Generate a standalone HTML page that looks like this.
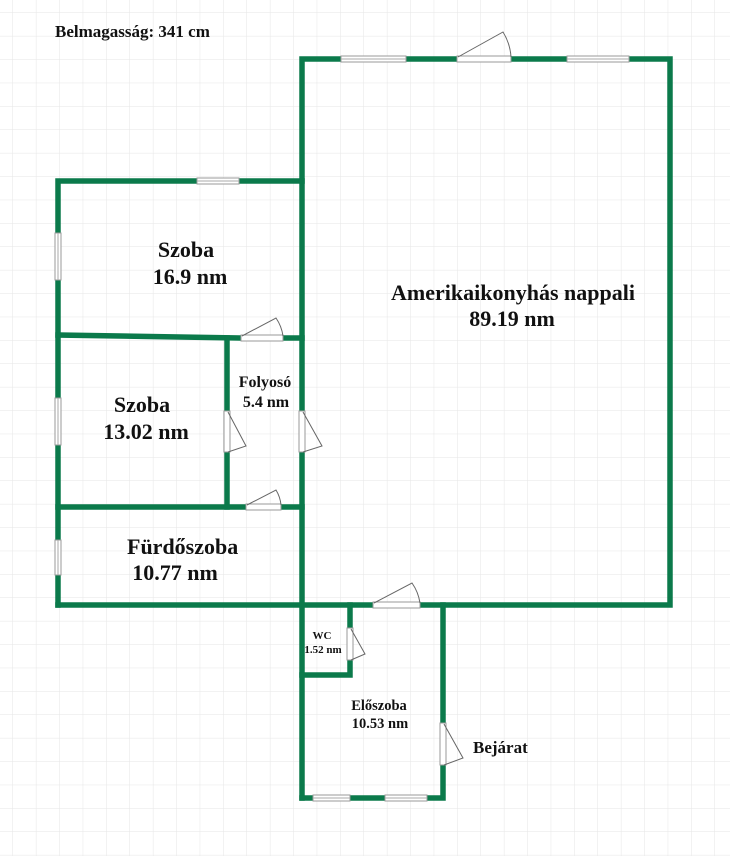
<!DOCTYPE html>
<html><head><meta charset="utf-8"><style>
html,body{margin:0;padding:0;background:#fff;}
svg{display:block;}
text{font-family:"Liberation Serif",serif;font-weight:bold;fill:#111;}
</style></head><body>
<svg width="730" height="856" viewBox="0 0 730 856" xmlns="http://www.w3.org/2000/svg">
<defs>
<pattern id="g" width="23.4" height="23.4" patternUnits="userSpaceOnUse" x="13" y="13">
<path d="M23.4 0V23.4M0 23.4H23.4" stroke="#e6e6e6" stroke-width="1" fill="none"/>
</pattern>
</defs>
<rect width="730" height="856" fill="url(#g)"/>
<g stroke="#0b7a4b" stroke-width="5.5" fill="none" stroke-linecap="square">
<path d="M302 798V59H670V605H58"/>
<path d="M302 181H58V605"/>
<path d="M58 335L240 338M283 338H302"/>
<path d="M227 338V411M227 452V507"/>
<path d="M58 507H246M281 507H302"/>
<path d="M350 605V628M350 660V675H302"/>
<path d="M443 605V723M443 765V798H302"/>
</g>
<g fill="#fff" stroke="#999" stroke-width="1">
<rect x="341" y="56" width="65" height="6"/>
<rect x="567" y="56" width="62" height="6"/>
<rect x="457" y="56" width="54" height="6"/>
<rect x="197" y="178" width="42" height="6"/>
<rect x="55" y="233" width="6" height="47"/>
<rect x="55" y="398" width="6" height="47"/>
<rect x="55" y="540" width="6" height="35"/>
<rect x="241" y="335" width="42" height="6"/>
<rect x="224" y="411" width="6" height="41"/>
<rect x="299" y="411" width="6" height="41"/>
<rect x="246" y="504" width="35" height="6"/>
<rect x="373" y="602" width="47" height="6"/>
<rect x="347" y="628" width="6" height="32"/>
<rect x="440" y="723" width="6" height="42"/>
<rect x="313" y="795" width="37" height="6"/>
<rect x="385" y="795" width="42" height="6"/>
</g>
<g stroke="#aaa" stroke-width="1">
<path d="M341 59H406M567 59H629M197 181H239M58 233V280M58 398V445M58 540V575M313 798H350M385 798H427"/>
</g>
<g stroke="#666" stroke-width="1" fill="none">
<path d="M458 57L503 32A54 54 0 0 1 511 57"/>
<path d="M242 336L276 318A42 42 0 0 1 283 336"/>
<path d="M228 412L246 446L228 452"/>
<path d="M303 412L322 446L303 452"/>
<path d="M247 505L276 490A35 35 0 0 1 281 505"/>
<path d="M374 603L412 583A47 47 0 0 1 420 603"/>
<path d="M351 629L365 654L351 660"/>
<path d="M444 724L463 758L444 765"/>
</g>
<text x="55" y="37" font-size="17">Belmagasság: 341 cm</text>
<text x="186" y="257" font-size="22" text-anchor="middle">Szoba</text>
<text x="190" y="284" font-size="22" text-anchor="middle">16.9 nm</text>
<text x="513" y="300" font-size="22" text-anchor="middle">Amerikaikonyhás nappali</text>
<text x="512" y="326" font-size="22" text-anchor="middle">89.19 nm</text>
<text x="142" y="412" font-size="22" text-anchor="middle">Szoba</text>
<text x="146" y="439" font-size="22" text-anchor="middle">13.02 nm</text>
<text x="265" y="387" font-size="16" text-anchor="middle">Folyosó</text>
<text x="266" y="407" font-size="16" text-anchor="middle">5.4 nm</text>
<text x="127" y="554" font-size="22">Fürdőszoba</text>
<text x="175" y="580" font-size="22" text-anchor="middle">10.77 nm</text>
<text x="322" y="639" font-size="11" text-anchor="middle">WC</text>
<text x="323" y="653" font-size="11" text-anchor="middle">1.52 nm</text>
<text x="379" y="710" font-size="14.5" text-anchor="middle">Előszoba</text>
<text x="380" y="728" font-size="14.5" text-anchor="middle">10.53 nm</text>
<text x="473" y="753" font-size="17">Bejárat</text>
</svg>
</body></html>
